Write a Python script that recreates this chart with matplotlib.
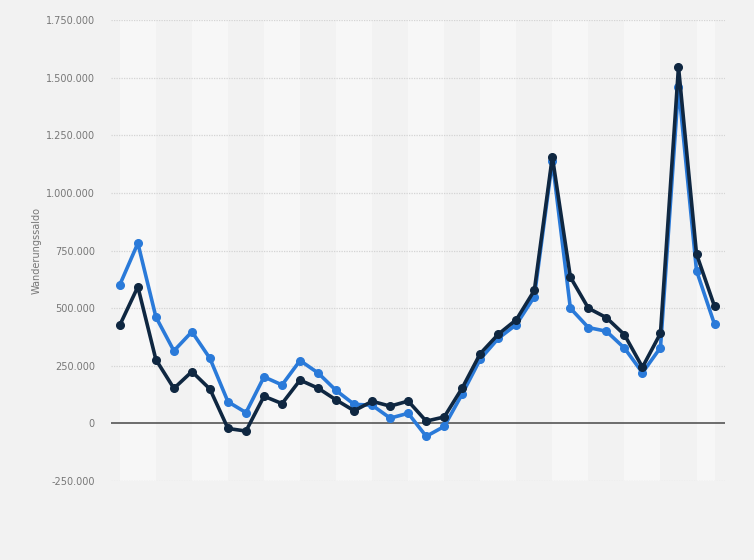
import numpy as np
import matplotlib.pyplot as plt
from matplotlib.ticker import FuncFormatter

years = list(range(1991, 2025))
# Wanderungssaldo insgesamt (blau)
saldo_gesamt = [602000, 782000, 462000, 315000, 398000, 282000, 94000, 47000,
                202000, 167000, 273000, 219000, 143000, 83000, 79000, 23000,
                44000, -56000, -13000, 128000, 279000, 369000, 429000, 550000,
                1139000, 500000, 416000, 400000, 327000, 220000, 329000,
                1462000, 663000, 430000]
# Wanderungssaldo Ausländer (dunkelblau)
saldo_auslaender = [427000, 593000, 277000, 152000, 225000, 149000, -22000, -33000,
                    118000, 86000, 188000, 153000, 102000, 55000, 96000, 75000,
                    97000, 10000, 28000, 154000, 303000, 387000, 450000, 577000,
                    1157000, 635000, 500000, 459000, 385000, 244000, 391000,
                    1547000, 735000, 508000]
y_ticks = [-250000, 0, 250000, 500000, 750000, 1000000, 1250000, 1500000, 1750000]

bg = '#f2f2f2'
fig = plt.figure(figsize=(7.54, 5.60), dpi=100, facecolor=bg)
ax = fig.add_axes([0.147, 0.141, 0.815, 0.823])
ax.set_facecolor(bg)

# alternating background bands, two years wide
for start in range(1991, 2025, 4):
    ax.axvspan(start, min(start + 2, 2024), color='#f7f7f7', zorder=0, lw=0)

for t in y_ticks:
    if t == 0:
        ax.axhline(t, color='#555555', lw=1.2, zorder=1)
    else:
        ax.axhline(t, color='#d4d4d4', lw=0.9, ls=(0, (1, 1)), zorder=1)

ax.plot(years, saldo_gesamt, color='#2a7ad9', lw=2.6, marker='o', ms=5.5, zorder=3)
ax.plot(years, saldo_auslaender, color='#0f2741', lw=2.6, marker='o', ms=5.5, zorder=4)

ax.set_xlim(1990.5, 2024.6)
ax.set_ylim(-250000, 1750000)
ax.set_yticks(y_ticks)
ax.yaxis.set_major_formatter(FuncFormatter(lambda v, p: f'{int(v):,}'.replace(',', '.')))
ax.set_xticks([])
ax.tick_params(axis='y', length=0, labelsize=7, labelcolor='#777777', pad=11.5)
for s in ax.spines.values():
    s.set_visible(False)
ax.set_ylabel('Wanderungssaldo', fontsize=7, color='#777777', labelpad=3)

fig.savefig('out.png', dpi=100, facecolor=bg)
